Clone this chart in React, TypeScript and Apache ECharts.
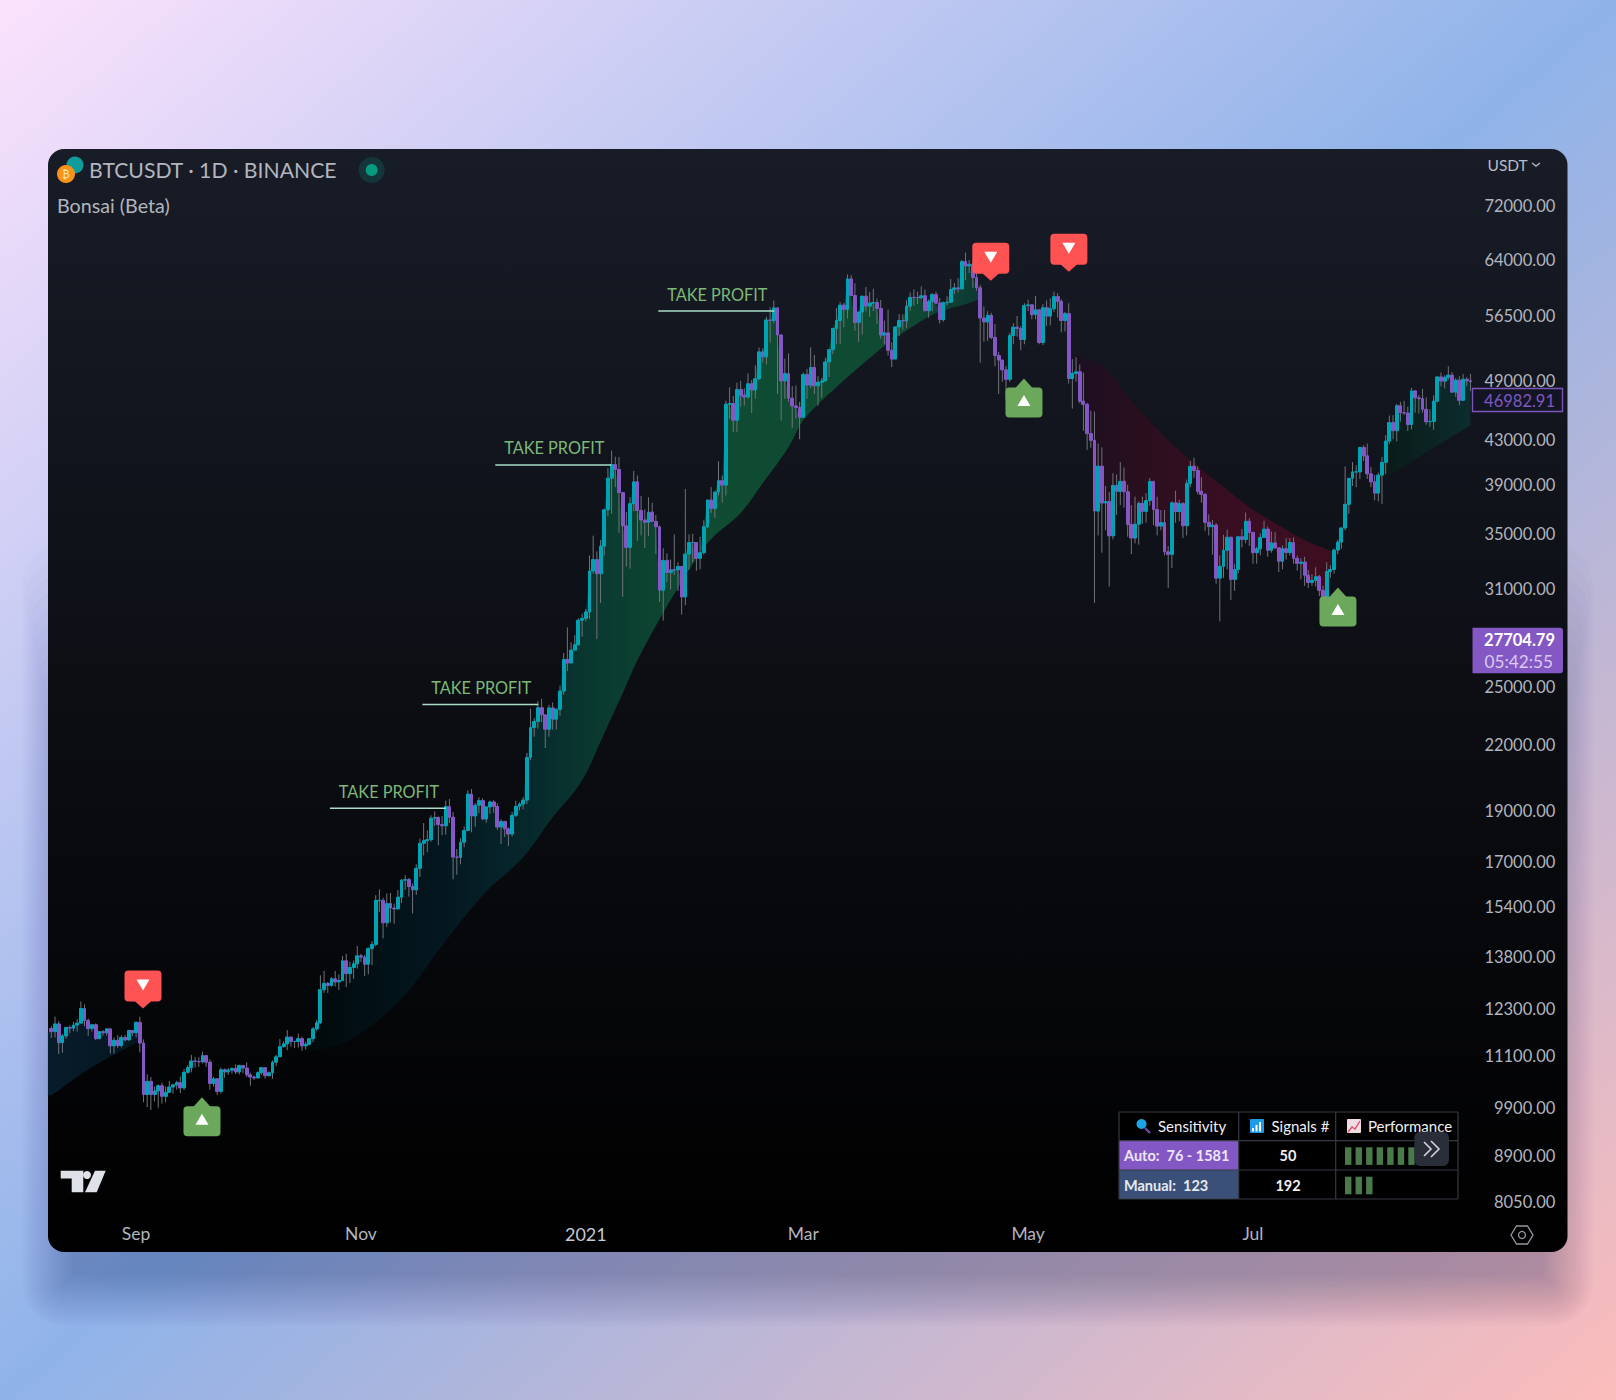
import React, { useEffect, useRef } from "react";
import * as echarts from "echarts";

// ---------- daily closes per month (starts on 2020-08-09) ----------
const closesAug20 = [11680,11880,11400,11570,11790,11770,11850,11900,12290,11970,11760,11860,11500,11680,11650,11750,11320,11460,11330,11530,11470,11710,11650];
const closesSep20 = [11920,11390,10170,10470,10170,10250,10370,10130,10220,10340,10390,10440,10320,10680,10790,10950,10940,10930,11080,10920,10420,10530,10240,10740,10690,10730,10770,10690,10840,10780];
const closesOct20 = [10620,10570,10550,10670,10790,10600,10670,10920,11050,11300,11370,11540,11430,11430,11500,11320,11360,11500,11750,11910,12810,12990,12930,13120,13030,13070,13650,13270,13450,13560,13800];
const closesNov20 = [13760,13550,14020,14150,15590,15590,14840,15480,15330,15300,15700,16300,16320,16070,15960,16730,17680,17780,17820,18680,18710,18420,18370,19160,18720,17150,17140,17720,18180,19700];
const closesDec20 = [18770,19220,19420,18650,19150,19360,19170,18320,18550,18250,18040,18800,19170,19270,19440,21350,22800,23110,23820,23450,22720,23810,23230,23730,24710,26490,26280,27040,27360,28880,28990];
const closesJan21 = [29410,32180,33000,31990,33990,36820,39470,40670,40240,38240,35540,33900,37320,39150,36770,36000,35820,36630,35890,35470,30850,32940,32080,32260,32250,32510,30400,33400,34260,34260,33090];
const closesFeb21 = [33500,35470,37620,36930,38290,39260,38870,46450,46510,44840,47970,47370,47190,48590,47930,49130,52120,51550,55910,55840,57410,54090,48890,49680,47060,46280,46110,45140];
const closesMar21 = [49590,48440,50350,48370,48750,48880,50970,52380,54880,55850,57770,57220,61190,59000,55600,56900,58910,57640,58030,58100,57350,54080,54340,52300,51300,55050,55840,55780,57630,58760,58740];
const closesApr21 = [58720,58970,57060,58210,59120,58020,55950,58080,58130,59770,60000,59860,63580,62960,63200,61380,60000,56150,55660,56470,53800,51700,51190,50100,49060,54020,55030,54860,53560,57700];
const closesMay21 = [57800,56570,57170,53200,57440,56390,57310,58860,58240,55840,56700,49150,49700,49880,46760,46430,43540,42900,36720,40530,37370,37500,34770,38850,38350,39200,38310,35650,34600,35670,37340];
const closesJun21 = [36690,37570,39190,36850,35520,35800,33570,33380,37390,36680,37330,35550,39020,40520,40140,38350,38090,35820,35480,35600,31680,32510,33680,34660,31590,32280,34700,34490,35900,35040];
const closesJul21 = [33500,33790,34650,35290,33690,34230,33860,32880,33800,33510,34260,33090,32730,32820,31880,31380,31520,31780,30840,29790,32140,32290,33700,34290,35380,37270,39460,40020,40020,42230,41460];
const closesAug21 = [39850,39150,38200,39740,40870,42830,44610,43820,46290,45600,45560,44420,47830,47100,47020,45930,44690,44720,46760,49320,48870,49280,49520,47700,48970,46850,49070,48900,48810];

const highsAug20 = [11820,12070,11950,11620,11800,11840,11940,12000,12480,12400,12020,11880,11890,11690,11720,11770,11770,11530,11590,11590,11600,11720,11720];
const highsSep20 = [11950,12070,11480,10630,10570,10350,10400,10440,10350,10480,10410,10480,10580,10760,10850,11100,11050,11040,11180,11050,10990,10570,10530,10790,10770,10780,10800,10870,10860,10850];
const highsOct20 = [10920,10670,10600,10700,10800,10800,10700,10960,11100,11490,11440,11720,11560,11450,11630,11550,11420,11490,11800,11990,13220,13350,13030,13170,13350,13250,13800,13860,13620,13660,14100];
const highsNov20 = [13860,13830,14060,14250,15770,15970,15680,15830,15850,15480,15950,16340,16480,16380,16180,16880,17860,18480,18180,18800,18960,18750,18770,19420,19480,18930,17460,17880,18350,19860];
const highsDec20 = [19920,19310,19560,19520,19180,19420,19430,19300,18630,18560,18300,18950,19410,19350,19570,21560,23770,23280,24170,24300,23400,23970,24100,23790,25000,26870,28420,27500,27950,29000,29300];
const highsJan21 = [29600,33300,34780,33600,34440,36900,40350,41950,41380,41350,38260,36650,37850,40100,39700,37950,36850,37850,37400,36400,35550,33830,33450,33000,34880,32800,32550,38540,34880,34930,34300];
const highsFeb21 = [34700,35980,37660,38700,38300,40950,39700,46800,48200,47300,48700,48900,48100,49700,49000,50600,52620,52500,56300,57500,58350,57500,54200,51350,51950,48350,48400,46700];
const highsMar21 = [49800,50200,52640,51770,49400,49200,51450,52400,54900,57390,58150,58050,61800,61700,60600,56940,58980,60100,59450,59880,58590,58430,55830,57200,53240,55080,56640,56600,58400,59400,59800];
const highsApr21 = [59500,60200,59800,58500,59300,59500,58670,58200,58900,61200,60650,61300,63800,64850,63800,63500,62500,60400,57600,57000,56800,55400,52100,51200,50500,54350,55500,56400,55200,58000];
const highsMay21 = [58450,57900,58950,57200,57900,58360,58650,59500,59300,58500,56900,58000,51300,51500,50700,49800,46600,45800,45700,42600,42250,38800,38270,39900,39800,40900,40400,38900,37200,37900,37500];
const highsJun21 = [37900,38200,39480,39250,37900,36800,36800,34000,37500,38400,37650,37450,39350,41000,41300,40500,39550,38200,36450,36000,35750,33300,34850,35250,34700,32700,34700,35300,36600,36150];
const highsJul21 = [35050,33950,34950,35950,35500,35100,35050,33900,34050,34600,34600,34650,33300,33100,33200,32250,31950,32450,31900,31150,32800,32600,33800,34480,35400,40500,39500,40900,40600,42300,42450];
const highsAug21 = [42600,40450,39750,39950,41350,43400,45300,45350,46450,46700,46800,46200,48150,47900,47400,48050,47150,45950,47350,49380,49800,49500,50500,49850,49200,49400,49650,49300,49650];

const lowsAug20 = [11520,11530,11120,11150,11500,11640,11690,11680,11960,11820,11570,11680,11470,11520,11580,11580,11130,11130,11270,11280,11430,11450,11570];
const lowsSep20 = [11530,11160,10000,9890,9830,10020,9880,9970,10000,10210,10190,10280,10200,10270,10650,10680,10790,10810,10890,10810,10280,10350,10160,10190,10550,10620,10650,10640,10630,10660];
const lowsOct20 = [10570,10370,10500,10530,10620,10530,10580,10530,10830,11130,11280,11210,11300,11270,11280,11200,11230,11330,11410,11690,11880,12720,12720,12890,12900,12800,13060,12880,13000,13120,13420];
const lowsNov20 = [13620,13200,13250,13520,14090,15190,14340,14700,14850,14810,15280,15500,15960,15720,15150,15780,16420,17210,17330,17740,18360,17600,18000,18020,18480,16330,16500,16880,17520,18170];
const lowsDec20 = [18110,18330,18880,18600,18500,18860,18900,18200,17650,17920,17570,17950,18730,19000,19050,19270,21220,22350,22750,23080,21800,22350,22700,22700,23400,24500,25820,26500,27350,27320,27850];
const lowsJan21 = [28800,28950,32000,27700,30000,33300,36300,36500,38700,35000,30400,32500,32350,36700,34400,34800,33850,34750,35850,33400,30070,28850,31400,30900,31900,30800,29240,29850,32280,32800,32200];
const lowsFeb21 = [32300,33370,35360,36570,36170,38000,37400,38000,45000,43700,43700,46200,46300,47000,45570,47000,48950,50900,50700,53200,55500,47500,44800,47000,46700,44100,45000,43000];
const lowsMar21 = [45100,47000,48100,47500,46300,47100,48800,49300,51850,53000,53000,55000,56080,59000,54600,53270,54150,57000,56300,57000,55450,53650,53000,51700,50400,51550,53950,54700,54900,57000,57700];
const lowsApr21 = [57900,58500,56950,56200,57000,57900,55480,55700,57700,58000,59200,59400,59800,61000,62000,60000,59600,50900,53300,53400,53600,50500,47500,48800,47000,48800,53000,53900,52300,53000];
const lowsMay21 = [57000,56000,56000,53000,52900,55200,55250,56900,56200,54400,54500,48600,46000,48800,46550,43800,42000,42200,30000,34800,33500,35200,31100,34500,36400,37200,37000,34700,33400,34200,34100];
const lowsJun21 = [35700,35800,37150,35600,34800,35200,33300,31000,32400,35800,35900,34600,34800,38700,39500,38100,37400,35150,34800,33350,31300,28800,31700,32300,30200,30800,32000,33900,34200,34000];
const lowsJul21 = [32700,32700,33300,34700,33200,33500,33800,32100,32300,33000,33300,32700,32200,31600,31150,31000,31150,31100,30450,29300,29500,31700,32000,33400,33800,35200,36500,38800,38700,39400,41000];
const lowsAug21 = [39400,38700,37600,37500,37300,39850,42550,43000,42800,44700,45350,43800,43950,45600,45500,45600,44400,44200,43900,46650,48300,48100,49000,47600,47200,46350,46800,48300,47800];

const closes = [...closesAug20,...closesSep20,...closesOct20,...closesNov20,...closesDec20,...closesJan21,...closesFeb21,...closesMar21,...closesApr21,...closesMay21,...closesJun21,...closesJul21,...closesAug21];
const highs = [...highsAug20,...highsSep20,...highsOct20,...highsNov20,...highsDec20,...highsJan21,...highsFeb21,...highsMar21,...highsApr21,...highsMay21,...highsJun21,...highsJul21,...highsAug21];
const lows = [...lowsAug20,...lowsSep20,...lowsOct20,...lowsNov20,...lowsDec20,...lowsJan21,...lowsFeb21,...lowsMar21,...lowsApr21,...lowsMay21,...lowsJun21,...lowsJul21,...lowsAug21];
const firstOpen = 11760;
const opens = closes.map((_, i) => (i === 0 ? firstOpen : closes[i - 1]));

const monthTicks: Record<string, string> = { "2020-09-01": "Sep", "2020-11-01": "Nov", "2021-01-01": "2021", "2021-03-01": "Mar", "2021-05-01": "May", "2021-07-01": "Jul" };
const priceTicks = [72000,64000,56500,49000,43000,39000,35000,31000,25000,22000,19000,17000,15400,13800,12300,11100,9900,8900,8050];

// ---------- slow ribbon curves: [day index, price] ----------
const ribbonBlue = [[0,10152],[11,10803],[23,11384],[24,11400]];
const ribbonGreen = [[68,11133],[79,11384],[88,11925],[97,12785],[105,13966],[117,15766],[128,17145],[136,18720],[144,20304],[150,22520],[155,24595],[159,26448],[168,30184],[178,34214],[187,36556],[193,39046],[200,42264],[204,44856],[213,48233],[222,51415],[227,53136],[233,54922],[240,56765],[249,58032],[252,58543]];
const ribbonRed = [[278,51754],[286,50290],[292,47182],[301,43589],[309,41076],[318,38707],[325,37037],[332,35754],[340,34445],[348,33545]];
const ribbonTeal = [[360,39400],[362,39561],[374,41990],[385,44359]];

const sellSignals = [[25,12289],[255,60949],[277,62170]];
const buySignals = [[41,10088],[264,49054],[350,30968]];
const takeProfits = [[108,19094],[132,23990],[153,40640],[196,57018]];
const takeProfitLabel = "TAKE PROFIT";

const symbolTitle = "BTCUSDT · 1D · BINANCE";
const indicatorTitle = "Bonsai (Beta)";
const currencyLabel = "USDT";
const lastClose = "46982.91";
const livePrice = "27704.79";
const countdown = "05:42:55";
const tableHeaders = ["Sensitivity", "Signals #", "Performance"];
const tableLabels = ["Auto:  76 - 1581", "Manual:  123"];
const tableSignals = ["50", "192"];
const tableBars = [7, 3];

const FONT = "Lato, 'Open Sans', sans-serif";
const TEAL = "#00a3b4";
const PURPLE = "#8458c4";
const sellNudge = [-0.5, -0.5, -3.5];
const buyNudge = [-0.5, -0.5, -3.5];
const takeProfitNudge = [-3.5, 0.5, -4, 0.5];

// smooth (Hermite) evaluation of a ribbon curve in log-price space
function curveAt(curve: number[][], i: number) {
  const n = curve.length;
  const L = (k: number) => Math.log(curve[k][1]);
  const X = (k: number) => curve[k][0];
  for (let k = 0; k < n - 1; k++) {
    if (i >= X(k) && i <= X(k + 1)) {
      const h = X(k + 1) - X(k);
      const t = (i - X(k)) / h;
      const m0 = k > 0 ? (L(k + 1) - L(k - 1)) / (X(k + 1) - X(k - 1)) : (L(k + 1) - L(k)) / h;
      const m1 = k < n - 2 ? (L(k + 2) - L(k)) / (X(k + 2) - X(k)) : (L(k + 1) - L(k)) / h;
      const t2 = t * t;
      const t3 = t2 * t;
      return Math.exp((2 * t3 - 3 * t2 + 1) * L(k) + (t3 - 2 * t2 + t) * h * m0 + (-2 * t3 + 3 * t2) * L(k + 1) + (t3 - t2) * h * m1);
    }
  }
  return curve[n - 1][1];
}

function bandSeries(curve: number[][], above: boolean, stops: [number, string][], leftBleed = 0) {
  const from = curve[0][0];
  const to = curve[curve.length - 1][0];
  const fill = new echarts.graphic.LinearGradient(0, 0, 1, 0, stops.map(([offset, color]) => ({ offset, color })));
  return {
    type: "custom",
    z: 1,
    silent: true,
    clip: false,
    data: [[from, curve[0][1]]],
    encode: { x: 0, y: 1 },
    renderItem: (_p: any, api: any) => {
      const pts: number[][] = [];
      for (let i = from; i <= to; i++) {
        const c = curveAt(curve, i);
        const v = above ? Math.max(closes[i], c) : Math.min(closes[i], c);
        const pt = api.coord([i, v]);
        if (i === from && leftBleed) pts.push([pt[0] - leftBleed, pt[1]]);
        pts.push(pt);
      }
      for (let i = to; i >= from; i--) {
        const pt = api.coord([i, curveAt(curve, i)]);
        pts.push(pt);
        if (i === from && leftBleed) pts.push([pt[0] - leftBleed, pt[1]]);
      }
      return { type: "polygon", shape: { points: pts }, style: { fill } };
    },
  };
}

function signalSeries(points: number[][], kind: "sell" | "buy", nudge: number[]) {
  return {
    type: "custom",
    z: 6,
    silent: true,
    clip: false,
    data: points,
    encode: { x: 0, y: 1 },
    renderItem: (p: any, api: any) => {
      const c = api.coord(points[p.dataIndex]);
      const x = c[0] + nudge[p.dataIndex];
      const y = c[1];
      const color = kind === "sell" ? "#ff5252" : "#6ca85c";
      const children =
        kind === "sell"
          ? [
              { type: "rect", shape: { x: x - 18.5, y: y - 38, width: 37, height: 31, r: 4 }, style: { fill: color } },
              { type: "polygon", shape: { points: [[x - 9, y - 8], [x + 9, y - 8], [x, y]] }, style: { fill: color } },
              { type: "polygon", shape: { points: [[x - 6.5, y - 29], [x + 6.5, y - 29], [x, y - 18]] }, style: { fill: "#ffffff" } },
            ]
          : [
              { type: "rect", shape: { x: x - 18.5, y: y + 8, width: 37, height: 30, r: 4 }, style: { fill: color } },
              { type: "polygon", shape: { points: [[x - 9, y + 9], [x + 9, y + 9], [x, y - 1]] }, style: { fill: color } },
              { type: "polygon", shape: { points: [[x - 6.5, y + 26.5], [x + 6.5, y + 26.5], [x, y + 15.5]] }, style: { fill: "#ffffff" } },
            ];
      return { type: "group", children };
    },
  };
}

function buildOption() {
  const categories: string[] = [];
  const start = Date.UTC(2020, 7, 9);
  closes.forEach((_, i) => categories.push(new Date(start + i * 86400000).toISOString().slice(0, 10)));
  const bodies = closes.map((c, i) => [opens[i], c, Math.min(opens[i], c), Math.max(opens[i], c)]);
  const wicks = closes.map((c, i) => [i, Math.min(lows[i], opens[i], c), Math.max(highs[i], opens[i], c)]);

  const txt = (text: string, x: number, y: number, size: number, fill: string, extra: any = {}) => ({
    type: "text",
    z: 30,
    silent: true,
    style: { text, x, y, fill, fontSize: size, fontFamily: FONT, align: "left", verticalAlign: "middle", ...extra },
  });
  const rect = (x: number, y: number, w: number, h: number, fill: string, r: any = 0, z = 28) => ({
    type: "rect",
    z,
    silent: true,
    shape: { x, y, width: w, height: h, r },
    style: { fill },
  });
  const line = (x1: number, y1: number, x2: number, y2: number, stroke: string) => ({
    type: "line",
    z: 29,
    silent: true,
    shape: { x1, y1, x2, y2 },
    style: { stroke, lineWidth: 1.2 },
  });
  const poly = (points: number[][], fill: string, z = 30) => ({ type: "polygon", z, silent: true, shape: { points }, style: { fill } });
  const pline = (points: number[][], stroke: string, lineWidth = 1.6) => ({
    type: "polyline",
    z: 30,
    silent: true,
    shape: { points },
    style: { stroke, lineWidth, fill: "none" },
  });

  // soft drop shadow of the panel, built from stacked translucent rounded rects
  const shadowLayers: any[] = [];
  for (let s = -24; s <= 26; s += 2.5) {
    shadowLayers.push({
      type: "rect",
      z: -19,
      silent: true,
      shape: { x: 48 - s, y: 700 - 6 * s, width: 1519.5 + 2 * s, height: 1252 - 700 + 48 + 7 * s, r: Math.max(16 + s, 4) },
      style: { fill: "rgba(30,36,66,0.0125)" },
    });
  }

  const T = { l: 1119, r: 1458, t: 1112, b: 1199, c1: 1238.7, c2: 1335.7, r1: 1140.7, r2: 1170 };
  const barsX = 1345;
  const tableGraphic: any[] = [
    rect(T.l, T.t, T.r - T.l, T.b - T.t, "#000000"),
    rect(T.l, T.r1, T.c1 - T.l, T.r2 - T.r1, PURPLE),
    rect(T.l, T.r2, T.c1 - T.l, T.b - T.r2, "#3b5078"),
    line(T.l, T.t, T.r, T.t, "#363a45"),
    line(T.l, T.r1, T.r, T.r1, "#363a45"),
    line(T.l, T.r2, T.r, T.r2, "#363a45"),
    line(T.l, T.b, T.r, T.b, "#363a45"),
    line(T.l, T.t, T.l, T.b, "#363a45"),
    line(T.c1, T.t, T.c1, T.b, "#363a45"),
    line(T.c2, T.t, T.c2, T.b, "#363a45"),
    line(T.r, T.t, T.r, T.b, "#363a45"),
    txt(tableHeaders[0], 1158, 1126, 15, "#f0f0f3"),
    txt(tableHeaders[1], 1271.5, 1126, 15, "#f0f0f3"),
    txt(tableHeaders[2], 1368, 1126, 15, "#f0f0f3"),
    txt(tableLabels[0], 1124, 1155.7, 14.5, "#ece6f7", { fontWeight: "bold" }),
    txt(tableLabels[1], 1124, 1185, 14.5, "#e6e9f0", { fontWeight: "bold" }),
    txt(tableSignals[0], 1288, 1155.7, 14.5, "#f0f0f3", { align: "center", fontWeight: "bold" }),
    txt(tableSignals[1], 1288, 1185, 14.5, "#f0f0f3", { align: "center", fontWeight: "bold" }),
    // magnifier emoji
    { type: "circle", z: 30, silent: true, shape: { cx: 1141.5, cy: 1124, r: 5 }, style: { fill: "#19a7e8" } },
    pline([[1145, 1128], [1150, 1133]], "#6a4aa8", 2.4),
    // bar chart emoji
    rect(1250, 1119, 14, 14, "#1e9be6", 1, 29),
    rect(1252, 1128, 2, 3.5, "#ffffff", 0, 30),
    rect(1255.5, 1125, 2, 6.5, "#ffffff", 0, 30),
    rect(1259, 1122, 2, 9.5, "#ffffff", 0, 30),
    // line chart emoji
    rect(1347, 1119, 14, 14, "#efdbe4", 1, 29),
    pline([[1348, 1132], [1352, 1127], [1355, 1129], [1360, 1121]], "#e0506a", 1.4),
  ];
  tableBars.forEach((n, row) => {
    for (let i = 0; i < n; i++) {
      tableGraphic.push(rect(barsX + i * 10.55, row === 0 ? 1147.3 : 1176.7, 6.4, 17.6, "#4a7a4a", 0, 29));
    }
  });

  return {
    animation: false,
    backgroundColor: "transparent",
    grid: { left: 49.5, top: 205, width: 1422.8, height: 995.8, containLabel: false },
    xAxis: {
      type: "category",
      data: categories,
      boundaryGap: true,
      axisLine: { show: false },
      axisTick: { show: false },
      splitLine: { show: false },
      axisLabel: {
        interval: (_i: number, v: string) => v in monthTicks,
        formatter: (v: string) => (monthTicks[v] === "2021" ? "{y|2021}" : monthTicks[v] || ""),
        margin: 24,
        color: "#b2b5be",
        fontSize: 17.5,
        fontFamily: FONT,
        hideOverlap: false,
        rich: { y: { color: "#c6c9d1", fontSize: 18, fontFamily: FONT } },
      },
    },
    yAxis: {
      type: "log",
      logBase: 10,
      min: 8050,
      max: 72000,
      position: "right",
      axisLine: { show: false },
      axisTick: { show: false },
      splitLine: { show: false },
      minorTick: { show: false },
      axisLabel: {
        customValues: priceTicks,
        formatter: (v: number) => "{p|" + Number(v).toFixed(2) + "}",
        align: "right",
        margin: 83,
        color: "#b2b5be",
        fontSize: 16.5,
        fontFamily: FONT,
        showMinLabel: true,
        showMaxLabel: true,
        rich: { p: { color: "#b2b5be", fontSize: 16.5, fontFamily: FONT, padding: [2, 0, 0, 0] } },
      },
    },
    series: [
      bandSeries(ribbonBlue, true, [[0, "#071c2b"], [1, "#05161f"]], 3.4),
      bandSeries(ribbonGreen, true, [[0, "#020808"], [0.08, "#020f14"], [0.2, "#04161f"], [0.32, "#06262c"], [0.44, "#0a3a30"], [0.59, "#0f4c32"], [0.88, "#0f4a33"], [1, "#0d3a34"]]),
      bandSeries(ribbonRed, false, [[0, "#1c0f22"], [0.25, "#2a0f1e"], [0.6, "#3a0e22"], [1, "#3d0e20"]]),
      bandSeries(ribbonTeal, true, [[0, "#0a1a16"], [1, "#0c2c2e"]]),
      {
        type: "custom",
        z: 2,
        silent: true,
        data: wicks,
        encode: { x: 0, y: [1, 2] },
        renderItem: (p: any, api: any) => {
          const w = wicks[p.dataIndex];
          const a = api.coord([w[0], w[1]]);
          const b = api.coord([w[0], w[2]]);
          return { type: "line", shape: { x1: a[0], y1: a[1], x2: b[0], y2: b[1] }, style: { stroke: "#707379", lineWidth: 1 } };
        },
      },
      {
        type: "candlestick",
        z: 3,
        large: false,
        silent: true,
        barWidth: 3.4,
        data: bodies,
        itemStyle: { color: TEAL, color0: PURPLE, borderColor: TEAL, borderColor0: PURPLE, borderWidth: 1 },
      },
      signalSeries(sellSignals, "sell", sellNudge),
      signalSeries(buySignals, "buy", buyNudge),
      {
        type: "custom",
        z: 5,
        silent: true,
        clip: false,
        data: takeProfits,
        encode: { x: 0, y: 1 },
        renderItem: (p: any, api: any) => {
          const c = api.coord(takeProfits[p.dataIndex]);
          const x = c[0] + takeProfitNudge[p.dataIndex];
          const y = c[1];
          return {
            type: "group",
            children: [
              { type: "line", shape: { x1: x - 116, y1: y, x2: x, y2: y }, style: { stroke: "#a9dcc6", lineWidth: 1.4 } },
              { type: "text", x: x - 57, y: y - 17, style: { text: takeProfitLabel, fill: "#7cb877", fontSize: 16.3, fontFamily: FONT, align: "center", verticalAlign: "middle" } },
            ],
          };
        },
      },
    ],
    graphic: [
      {
        type: "rect",
        z: -20,
        silent: true,
        shape: { x: 0, y: 0, width: 1616, height: 1400 },
        style: {
          fill: new echarts.graphic.LinearGradient(0, 0, 1, 1, [
            { offset: 0, color: "#fbe2fc" },
            { offset: 0.5, color: "#8fb3e9" },
            { offset: 1, color: "#fcbcbb" },
          ]),
        },
      },
      ...shadowLayers,
      {
        type: "rect",
        z: -18,
        silent: true,
        shape: { x: 48, y: 149, width: 1519.5, height: 1103, r: 16 },
        style: {
          fill: new echarts.graphic.LinearGradient(0, 0, 0, 1, [
            { offset: 0, color: "#181c27" },
            { offset: 1, color: "#000000" },
          ]),
        },
      },
      // header
      { type: "circle", z: 29, silent: true, shape: { cx: 75, cy: 165, r: 8.5 }, style: { fill: "#0f9c9a" } },
      { type: "circle", z: 30, silent: true, shape: { cx: 66, cy: 174, r: 9 }, style: { fill: "#f7931a" } },
      txt("₿", 66, 174.5, 10, "#ffe3bd", { align: "center", fontFamily: "'DejaVu Sans', sans-serif" }),
      txt(symbolTitle, 89, 170, 21.2, "#b2b5be"),
      { type: "circle", z: 29, silent: true, shape: { cx: 371.7, cy: 170, r: 13 }, style: { fill: "#14353a" } },
      { type: "circle", z: 30, silent: true, shape: { cx: 371.7, cy: 170, r: 6 }, style: { fill: "#089981" } },
      txt(indicatorTitle, 57, 205.5, 19.7, "#b2b5be"),
      txt(currencyLabel, 1487.5, 165, 15.5, "#b8bcc6"),
      pline([[1532, 163], [1536, 166], [1540, 163]], "#b2b5be", 1.4),
      // price boxes
      { type: "rect", z: 28, silent: true, shape: { x: 1472.5, y: 388.5, width: 90, height: 23 }, style: { fill: "#131622", stroke: "#7c54bc", lineWidth: 1.4 } },
      txt(lastClose, 1555, 400.5, 16.5, "#7f56c2", { align: "right" }),
      rect(1472.5, 627.7, 90.5, 45.6, PURPLE, [0, 3, 3, 0]),
      txt(livePrice, 1555, 640, 16.5, "#ffffff", { align: "right", fontWeight: "bold" }),
      txt(countdown, 1553, 661, 17.2, "#d9cbef", { align: "right" }),
      // TV logo
      poly([[60.7, 1170.7], [83.3, 1170.7], [83.3, 1192.3], [71.7, 1192.3], [71.7, 1178.5], [60.7, 1178.5]], "#dfe1e8"),
      { type: "circle", z: 30, silent: true, shape: { cx: 87, cy: 1175, r: 4 }, style: { fill: "#dfe1e8" } },
      poly([[105.7, 1170.7], [95, 1170.7], [85, 1192.3], [96.7, 1192.3]], "#dfe1e8"),
      // settings icon
      {
        type: "polygon",
        z: 30,
        silent: true,
        shape: { points: [[1511, 1235], [1516.5, 1226], [1527.5, 1226], [1533, 1235], [1527.5, 1244], [1516.5, 1244]] },
        style: { fill: "none", stroke: "#9598a1", lineWidth: 1.3 },
      },
      { type: "circle", z: 30, silent: true, shape: { cx: 1522, cy: 1235, r: 3.5 }, style: { fill: "none", stroke: "#9598a1", lineWidth: 1.3 } },
      ...tableGraphic,
      // collapse button
      rect(1414.3, 1131.7, 34.7, 34.3, "#2a2e39", 6, 31),
      { ...pline([[1424, 1142], [1431, 1149], [1424, 1156]], "#d1d4dc", 1.6), z: 32 },
      { ...pline([[1431, 1141], [1439, 1149], [1431, 1157]], "#d1d4dc", 1.6), z: 32 },
    ],
  };
}

export default function App() {
  const ref = useRef<HTMLDivElement>(null);
  useEffect(() => {
    const chart = echarts.init(ref.current!, undefined, { renderer: "svg" });
    chart.setOption(buildOption() as any);
    return () => chart.dispose();
  }, []);
  return <div ref={ref} style={{ position: "absolute", left: 0, top: 0, width: 1616, height: 1400 }} />;
}
